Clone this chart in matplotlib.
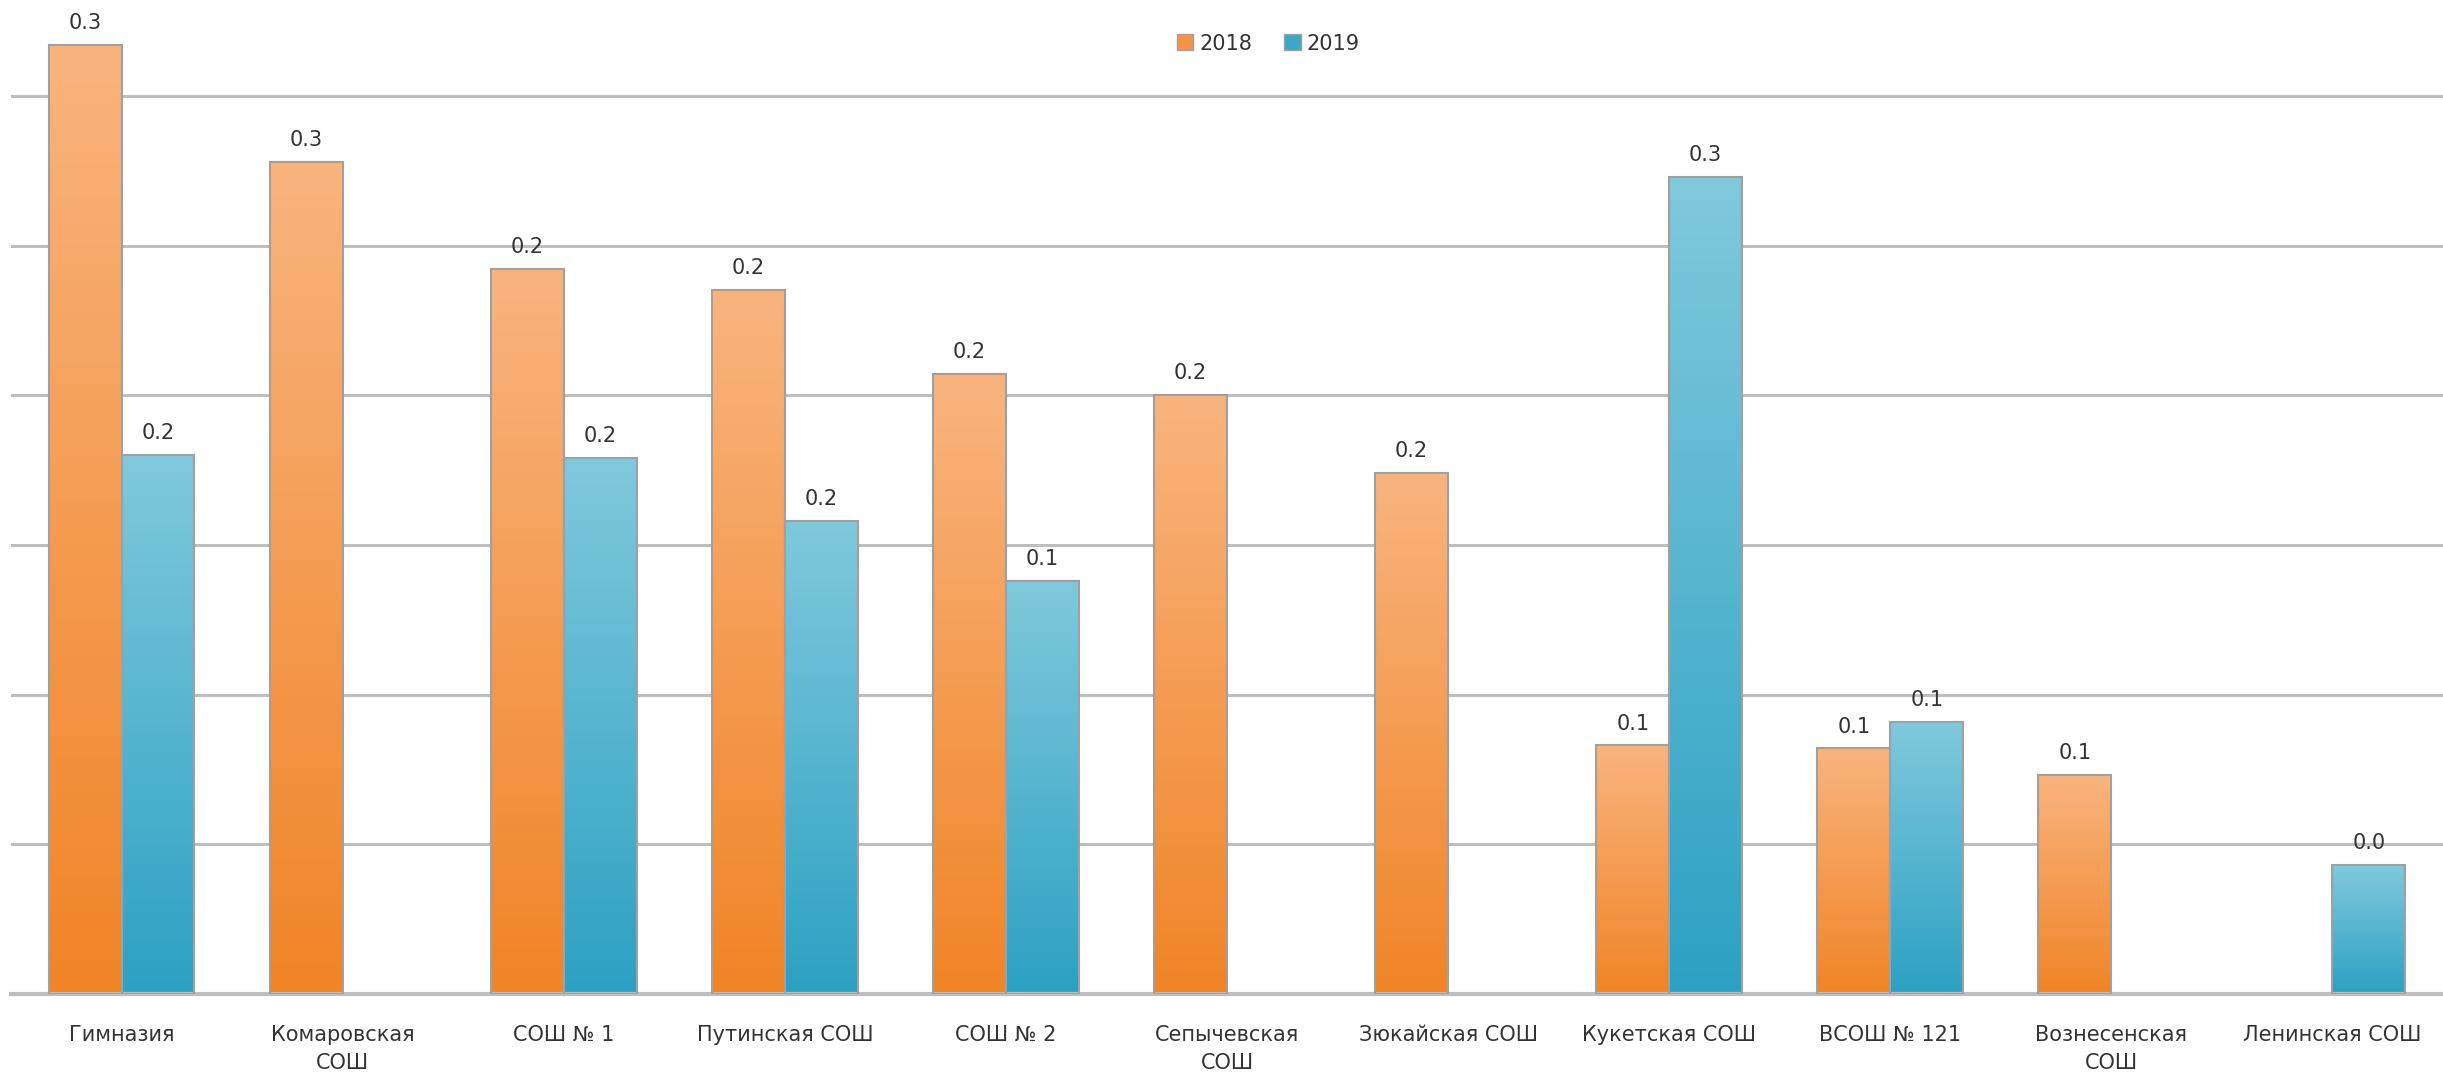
import matplotlib.pyplot as plt
import numpy as np
from matplotlib.colors import LinearSegmentedColormap
from matplotlib.patches import Patch

schools = ['Гимназия', 'Комаровская\nСОШ', 'СОШ № 1', 'Путинская СОШ', 'СОШ № 2',
           'Сепычевская\nСОШ', 'Зюкайская СОШ', 'Кукетская СОШ', 'ВСОШ № 121',
           'Вознесенская\nСОШ', 'Ленинская СОШ']
vals2018 = [0.317, 0.278, 0.242, 0.235, 0.207, 0.200, 0.174, 0.083, 0.082, 0.073, np.nan]
vals2019 = [0.180, np.nan, 0.179, 0.158, 0.138, np.nan, np.nan, 0.273, 0.091, np.nan, 0.043]
years = ['2018', '2019']

fig = plt.figure(figsize=(24.43, 10.81), dpi=100)
ax = fig.add_axes([0.0045, 0.0805, 0.9955, 0.9195])

x = np.arange(len(schools))
w = 0.33

orange_cm = LinearSegmentedColormap.from_list('o', ['#F08426', '#F9B47E'])
blue_cm = LinearSegmentedColormap.from_list('b', ['#2CA1C3', '#80C9DC'])
grad = np.linspace(0, 1, 256).reshape(-1, 1)

def draw(pos, vals, cmap, edge):
    vals = np.array(vals)
    ok = ~np.isnan(vals)
    bars = ax.bar(pos[ok], vals[ok], w, color='none', edgecolor=edge, linewidth=1.5, zorder=3)
    for b, v in zip(bars, vals[ok]):
        bx, by = b.get_x(), b.get_y()
        im = ax.imshow(grad, cmap=cmap, origin='lower', aspect='auto', zorder=2,
                       extent=[bx, bx + b.get_width(), by, by + b.get_height()])
        im.set_clip_path(b)
        ax.text(bx + b.get_width() / 2, v + 0.004, f'{v:.1f}', ha='center', va='bottom',
                fontsize=15, color='#333333', zorder=4)
    return bars

draw(x - w / 2, vals2018, orange_cm, '#A0A0A0')
draw(x + w / 2, vals2019, blue_cm, '#A0A0A0')

ax.set_xlim(-0.5, len(schools) - 0.5)
ax.set_ylim(0, 0.332)
ax.set_yticks(np.arange(0.05, 0.31, 0.05))
ax.yaxis.grid(True, color='#BEBEBE', linewidth=2.2, zorder=0)
ax.set_axisbelow(True)
ax.tick_params(axis='y', left=False, labelleft=False)
ax.set_xticks(x)
ax.set_xticklabels(schools, fontsize=15, color='#333333', linespacing=1.5)
ax.tick_params(axis='x', length=0, pad=22)
for s in ['top', 'right', 'left']:
    ax.spines[s].set_visible(False)
ax.spines['bottom'].set_color('#BEBEBE')
ax.spines['bottom'].set_linewidth(3)

handles = [Patch(facecolor='#F39445', edgecolor='#A0A0A0', label=years[0]),
           Patch(facecolor='#3BA9C5', edgecolor='#A0A0A0', label=years[1])]
ax.legend(handles=handles, loc='upper center', bbox_to_anchor=(0.517, 0.985), ncol=2,
          frameon=False, fontsize=15, handlelength=0.8, handleheight=0.8,
          handletextpad=0.3, columnspacing=1.5, labelcolor='#333333')

fig.savefig('out.png', dpi=100, facecolor='white')
